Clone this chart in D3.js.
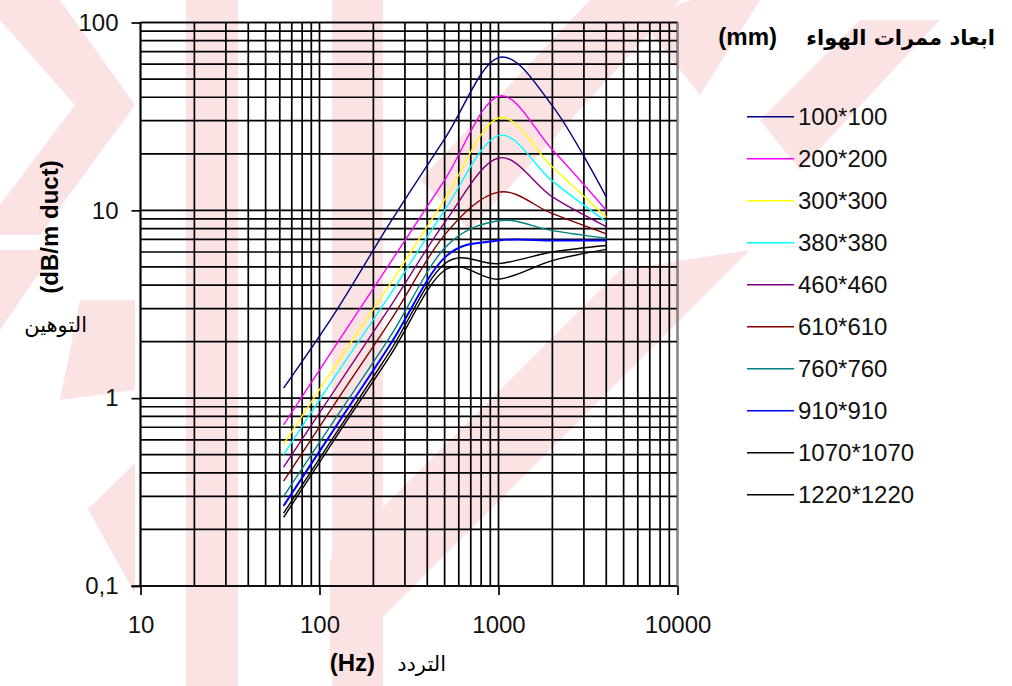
<!DOCTYPE html>
<html><head><meta charset="utf-8">
<script src="https://cdn.jsdelivr.net/npm/d3@7"></script>
<style>html,body{margin:0;padding:0;background:#fff;}svg{display:block;}</style>
</head><body>
<svg id="chart" width="1012" height="686"></svg>
<script>
// ---------- data ----------
const freqs = [63, 125, 250, 500, 1000, 2000, 4000];
const seriesNames = ["100*100","200*200","300*300","380*380","460*460","610*610","760*760","910*910","1070*1070","1220*1220"];
const seriesColors = ["#000080","#ff00ff","#ffff00","#00ffff","#800080","#800000","#008080","#0000ff","#000000","#000000"];
const s100  = [1.13, 2.95, 8.7, 24.0, 65.0, 36.0, 11.8];
const s200  = [0.72, 1.95, 5.3, 14.5, 40.5, 21.0, 10.0];
const s300  = [0.57, 1.53, 4.1, 11.4, 31.0, 17.0, 9.2];
const s380  = [0.50, 1.35, 3.6, 10.0, 25.0, 14.3, 8.7];
const s460  = [0.43, 1.15, 3.1, 8.6, 19.0, 11.8, 8.2];
const s610  = [0.362, 0.97, 2.6, 7.4, 12.5, 9.6, 7.5];
const s760  = [0.30, 0.80, 2.15, 6.3, 8.8, 7.8, 7.1];
const s910  = [0.267, 0.72, 1.95, 5.6, 6.9, 6.9, 6.9];
const s1070 = [0.244, 0.66, 1.8, 5.2, 5.2, 6.0, 6.5];
const s1220 = [0.232, 0.63, 1.7, 4.8, 4.3, 5.4, 6.2];
const seriesValues = [s100, s200, s300, s380, s460, s610, s760, s910, s1070, s1220];
const xTickValues = [10, 100, 1000, 10000];
const xTickLabels = ["10", "100", "1000", "10000"];
const yTickValues = [0.1, 1, 10, 100];
const yTickLabels = ["0,1", "1", "10", "100"];
const xTitleLatin = "(Hz)";
const xTitleArabic = "التردد";
const yTitleLatin = "(dB/m duct)";
const yTitleArabic = "التوهين";
const legendTitleLatin = "(mm)";
const legendTitleArabic = "ابعاد ممرات الهواء";

// ---------- layout ----------
const svg = d3.select("#chart");
const L = 140.5, R = 677.5, T = 22.5, B = 586;
const x = d3.scaleLog().domain([10, 10000]).range([L, R]);
const y = d3.scaleLog().domain([0.1, 100]).range([B, T]);
const font = "'Liberation Sans', Arial, 'DejaVu Sans', sans-serif";
const pink = "#fce3e3";

// ---------- watermark (faint background) ----------
const wm = svg.append("g").attr("fill", pink);
const polys = [
  [[0,0],[60,0],[135,105],[40,235],[0,235],[0,205],[75,105],[0,20]],
  [[0,250],[55,250],[0,330]],
  [[80,300],[135,300],[135,390],[60,400]],
  [[135,463],[135,594],[88,509]],
  [[186,0],[238,0],[238,686],[186,686]],
  [[332,0],[383,0],[383,686],[332,686]],
  [[330,560],[620,270],[750,250],[330,670]],
  [[420,180],[590,0],[680,0],[470,230]],
  [[690,0],[760,0],[700,95],[640,20]],
  [[760,120],[860,20],[940,20],[800,170]]
];
polys.forEach(p => wm.append("polygon").attr("points", p.map(d => d.join(",")).join(" ")));

// ---------- grid ----------
const gx = [];
for (let e = 10; e < 10000; e *= 10) for (let m = 1; m < 10; m++) gx.push(e * m);
gx.push(10000);
const gy = [];
for (let e = 0.1; e < 100; e *= 10) for (let m = 1; m < 10; m++) gy.push(+(e * m).toPrecision(3));
gy.push(100);

const grid = svg.append("g").attr("stroke", "#000").attr("stroke-width", 1.7);
grid.selectAll("line.v").data(gx).join("line")
  .attr("x1", d => x(d)).attr("x2", d => x(d)).attr("y1", T).attr("y2", B);
grid.selectAll("line.h").data(gy).join("line")
  .attr("x1", L).attr("x2", R).attr("y1", d => y(d)).attr("y2", d => y(d));

// ---------- axes ----------
const xAxis = d3.axisBottom(x).tickValues(xTickValues).tickFormat((d, i) => xTickLabels[i]).tickSize(9).tickPadding(21);
const yAxis = d3.axisLeft(y).tickValues(yTickValues).tickFormat((d, i) => yTickLabels[i]).tickSize(9).tickPadding(13);
const gxA = svg.append("g").attr("transform", `translate(0,${B})`).call(xAxis);
const gyA = svg.append("g").attr("transform", `translate(${L},0)`).call(yAxis);
[gxA, gyA].forEach(g => {
  g.select(".domain").remove();
  g.selectAll(".tick line").attr("stroke", "#000").attr("stroke-width", 1.7);
  g.selectAll(".tick text").attr("font-family", font).attr("font-size", 24).attr("fill", "#111");
});
gxA.selectAll(".tick text").attr("dy", "0.71em");
svg.append("line").attr("x1", L - 9).attr("x2", R).attr("y1", B).attr("y2", B).attr("stroke", "#000").attr("stroke-width", 1.7);
svg.append("line").attr("x1", L).attr("x2", L).attr("y1", T).attr("y2", B).attr("stroke", "#000").attr("stroke-width", 1.7);
svg.append("line").attr("x1", L).attr("x2", R).attr("y1", T).attr("y2", T).attr("stroke", "#000").attr("stroke-width", 1.7);
svg.append("line").attr("x1", R).attr("x2", R).attr("y1", T).attr("y2", B).attr("stroke", "#888").attr("stroke-width", 1.5);

// ---------- curves ----------
const line = d3.line().x(d => x(d[0])).y(d => y(d[1])).curve(d3.curveCardinal.tension(0));
const curves = svg.append("g").attr("fill", "none");
seriesValues.forEach((vals, i) => {
  curves.append("path")
    .attr("d", line(freqs.map((f, j) => [f, vals[j]])))
    .attr("stroke", seriesColors[i])
    .attr("stroke-width", i === 7 ? 2 : 1.4);
});

// ---------- axis titles ----------
svg.append("text").attr("x", 375).attr("y", 671).attr("text-anchor", "end")
  .attr("font-family", font).attr("font-weight", "bold").attr("font-size", 24).text(xTitleLatin);
svg.append("text").attr("x", 446).attr("y", 671).attr("text-anchor", "end")
  .attr("font-family", "'DejaVu Sans', sans-serif").attr("font-size", 21).text(xTitleArabic);

svg.append("text").attr("transform", "translate(58,227) rotate(-90)").attr("text-anchor", "middle")
  .attr("font-family", font).attr("font-weight", "bold").attr("font-size", 24).text(yTitleLatin);
svg.append("text").attr("x", 87).attr("y", 332).attr("text-anchor", "end")
  .attr("font-family", "'DejaVu Sans', sans-serif").attr("font-size", 21).text(yTitleArabic);

// ---------- legend ----------
svg.append("text").attr("x", 777).attr("y", 45).attr("text-anchor", "end")
  .attr("font-family", font).attr("font-weight", "bold").attr("font-size", 24).text(legendTitleLatin);
svg.append("text").attr("x", 995).attr("y", 45).attr("text-anchor", "end")
  .attr("font-family", "'DejaVu Sans', sans-serif").attr("font-weight", "bold").attr("font-size", 21).text(legendTitleArabic);

const lg = svg.append("g");
seriesNames.forEach((name, i) => {
  const cy = 116.7 + i * 42;
  lg.append("line").attr("x1", 747).attr("x2", 794).attr("y1", cy).attr("y2", cy)
    .attr("stroke", seriesColors[i]).attr("stroke-width", 1.5);
  lg.append("text").attr("x", 798).attr("y", cy).attr("dy", "0.36em")
    .attr("font-family", font).attr("font-size", 24).attr("fill", "#111").text(name);
});
</script>
</body></html>
